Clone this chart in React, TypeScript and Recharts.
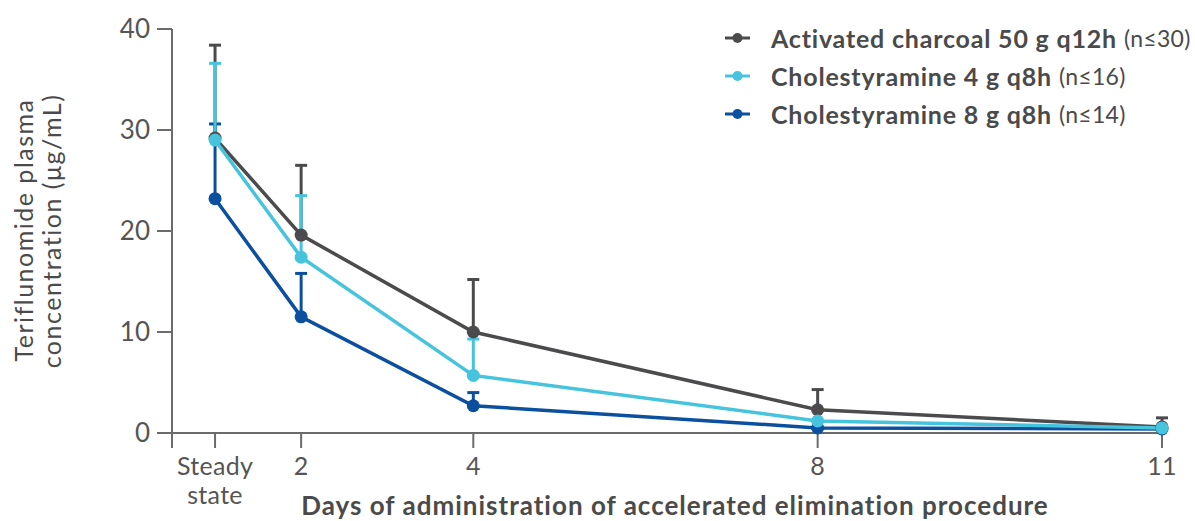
import React from 'react';
import { LineChart, Line, XAxis, YAxis, ErrorBar } from 'recharts';

// x slots: the source axis is not linear in days, so each label gets a slot
const slots = [0, 1, 3, 7, 11];
const slotLabels = ['Steady state', '2', '4', '8', '11'];

const charcoal = [29.2, 19.6, 10.0, 2.3, 0.6];
const charcoalUpper = [38.4, 26.5, 15.2, 4.3, 1.5];
const chol4 = [29.0, 17.4, 5.7, 1.2, 0.5];
const chol4Upper = [36.6, 23.5, 9.3, 2.3, 0.5];
const chol8 = [23.2, 11.5, 2.7, 0.5, 0.4];
const chol8Upper = [30.6, 15.8, 4.0, 0.5, 0.4];

const yTicks = [0, 10, 20, 30, 40];

const GRAY = '#4b4b4d';
const CYAN = '#46c4dd';
const BLUE = '#0b4f9f';
const AXIS = '#6b6b6b';
const TEXT = '#4a4a4a';
const TICK = '#555555';
const FONT = 'Lato, "Open Sans", sans-serif';

const data = slots.map((s, i) => ({
  x: s,
  charcoal: charcoal[i],
  charcoalErr: [0, +(charcoalUpper[i] - charcoal[i]).toFixed(2)],
  chol4: chol4[i],
  chol4Err: [0, +(chol4Upper[i] - chol4[i]).toFixed(2)],
  chol8: chol8[i],
  chol8Err: [0, +(chol8Upper[i] - chol8[i]).toFixed(2)],
}));

const legendItems = [
  { name: 'Activated charcoal 50 g q12h', n: '(n≤30)', color: GRAY },
  { name: 'Cholestyramine 4 g q8h', n: '(n≤16)', color: CYAN },
  { name: 'Cholestyramine 8 g q8h', n: '(n≤14)', color: BLUE },
];

const XTick = (props: any) => {
  const { x, y, payload } = props;
  const idx = slots.indexOf(payload.value);
  if (idx < 0) return null;
  const lines = slotLabels[idx].split(' ');
  return (
    <g transform={`translate(${x},${y})`}>
      {lines.map((l, i) => (
        <text key={i} x={0} y={i * 29} dy={25} textAnchor="middle" fill={TICK} fontSize={25} letterSpacing={0.3} fontFamily={FONT}>
          {l}
        </text>
      ))}
    </g>
  );
};

const YLabel = () => (
  <g>
    <text transform="translate(33,230) rotate(-90)" textAnchor="middle" fill={TEXT} fontSize={25} letterSpacing={1.5} fontFamily={FONT}>
      Teriflunomide plasma
    </text>
    <text transform="translate(61,231) rotate(-90)" textAnchor="middle" fill={TEXT} fontSize={25} letterSpacing={1.5} fontFamily={FONT}>
      concentration (μg/mL)
    </text>
  </g>
);

const XTitle = () => (
  <text x={675} y={515} textAnchor="middle" fill={TEXT} fontSize={26} fontWeight={700} letterSpacing={1} fontFamily={FONT}>
    Days of administration of accelerated elimination procedure
  </text>
);

const LegendBox = () => (
  <div style={{ position: 'absolute', left: 722, top: 19, fontFamily: FONT, color: TEXT }}>
    {legendItems.map((it) => (
      <div key={it.name} style={{ display: 'flex', alignItems: 'center', height: 38 }}>
        <svg width={49} height={14}>
          <line x1={3} y1={7} x2={28} y2={7} stroke={it.color} strokeWidth={3} />
          <circle cx={15.5} cy={7} r={5} fill={it.color} />
        </svg>
        <span style={{ fontSize: 25, fontWeight: 700, letterSpacing: 0.8 }}>{it.name}</span>
        <span style={{ fontSize: 23, marginLeft: 7, letterSpacing: 0.3 }}>{it.n}</span>
      </div>
    ))}
  </div>
);

export default function App() {
  return (
    <div style={{ position: 'absolute', left: 0, top: 0, width: 1195, height: 521, background: '#fff' }}>
      <LineChart width={1195} height={521} data={data} margin={{ top: 29, right: 33, bottom: 0, left: 0 }}>
        <XAxis
          dataKey="x"
          type="number"
          domain={[-0.5, 11]}
          ticks={[-0.5, ...slots]}
          interval={0}
          height={88}
          tick={<XTick />}
          tickSize={15}
          stroke={AXIS}
          strokeWidth={2}
          label={{ content: () => <XTitle /> }}
        />
        <YAxis
          type="number"
          domain={[0, 40]}
          ticks={yTicks}
          width={172}
          tickSize={15}
          tickMargin={7}
          stroke={AXIS}
          strokeWidth={2}
          tick={{ fill: TICK, fontSize: 26, fontFamily: FONT }}
          label={{ content: () => <YLabel /> }}
        />
        <Line
          dataKey="charcoal"
          stroke={GRAY}
          strokeWidth={3.5}
          dot={{ r: 6.5, fill: GRAY, stroke: 'none' }}
          isAnimationActive={false}
        >
          <ErrorBar dataKey="charcoalErr" direction="y" width={6} stroke={GRAY} strokeWidth={3} />
        </Line>
        <Line
          dataKey="chol8"
          stroke={BLUE}
          strokeWidth={3.5}
          dot={{ r: 6.5, fill: BLUE, stroke: 'none' }}
          isAnimationActive={false}
        >
          <ErrorBar dataKey="chol8Err" direction="y" width={6} stroke={BLUE} strokeWidth={3} />
        </Line>
        <Line
          dataKey="chol4"
          stroke={CYAN}
          strokeWidth={3.5}
          dot={{ r: 6.5, fill: CYAN, stroke: 'none' }}
          isAnimationActive={false}
        >
          <ErrorBar dataKey="chol4Err" direction="y" width={6} stroke={CYAN} strokeWidth={3} />
        </Line>
      </LineChart>
      <LegendBox />
    </div>
  );
}
